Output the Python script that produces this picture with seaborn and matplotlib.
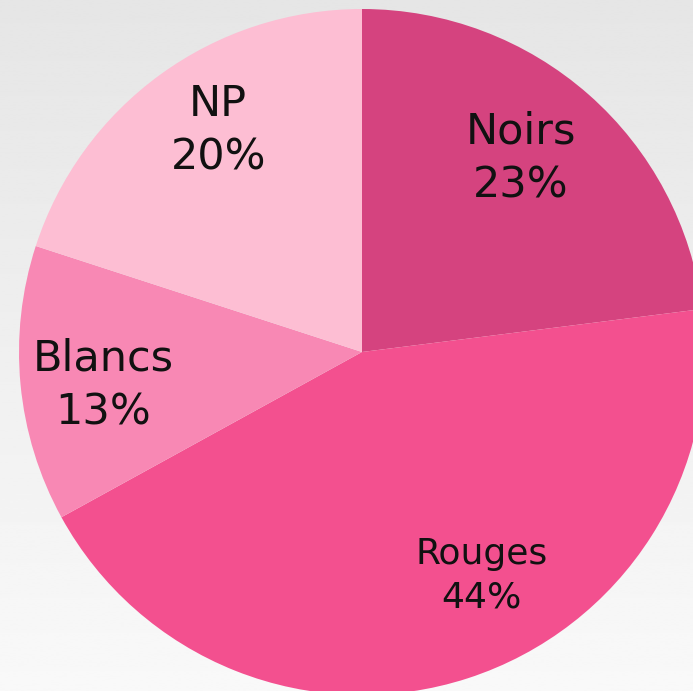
import numpy as np
import matplotlib
matplotlib.use("Agg")
import matplotlib.pyplot as plt
import seaborn as sns

# Données du camembert (sens horaire depuis midi)
categories = ['Noirs', 'Rouges', 'Blancs', 'NP']
pourcentages = [23, 44, 13, 20]
couleurs = ['#d5437f', '#f3508f', '#f888b4', '#fdbed3']

# position des étiquettes (fraction du rayon, décalage d'angle en degrés)
label_rayon = [0.73, 0.74, 0.76, 0.77]
label_decalage = [2, 10, 2, -3]
label_taille = [31, 26, 31, 31]

sns.set_theme(style="white")
plt.rcParams['font.family'] = ['DejaVu Sans']

fig = plt.figure(figsize=(6.93, 6.91), dpi=100)
ax = fig.add_axes([0, 0, 1, 1])

# fond gris en dégradé
xlim = (-362 / 343, (693 - 362) / 343)
ylim = (-(691 - 352) / 343, 352 / 343)
fond = np.linspace(0.975, 0.90, 256).reshape(-1, 1)
ax.imshow(fond, cmap='gray', vmin=0, vmax=1, aspect='auto',
          extent=(xlim[0], xlim[1], ylim[0], ylim[1]), zorder=0, origin='lower')

wedges, _ = ax.pie(pourcentages, colors=couleurs, startangle=90, counterclock=False,
                   radius=1, wedgeprops=dict(linewidth=0))
for w in wedges:
    w.set_zorder(1)

for w, cat, p, r, d, t in zip(wedges, categories, pourcentages, label_rayon, label_decalage, label_taille):
    ang = np.deg2rad((w.theta1 + w.theta2) / 2 + d)
    ax.text(r * np.cos(ang), r * np.sin(ang), f"{cat}\n{p}%", ha='center', va='center',
            fontsize=t, color='#111111', linespacing=1.35, zorder=2)

ax.set_xlim(*xlim)
ax.set_ylim(*ylim)
ax.set_aspect('auto')
ax.axis('off')

plt.savefig('out.png', dpi=100)
